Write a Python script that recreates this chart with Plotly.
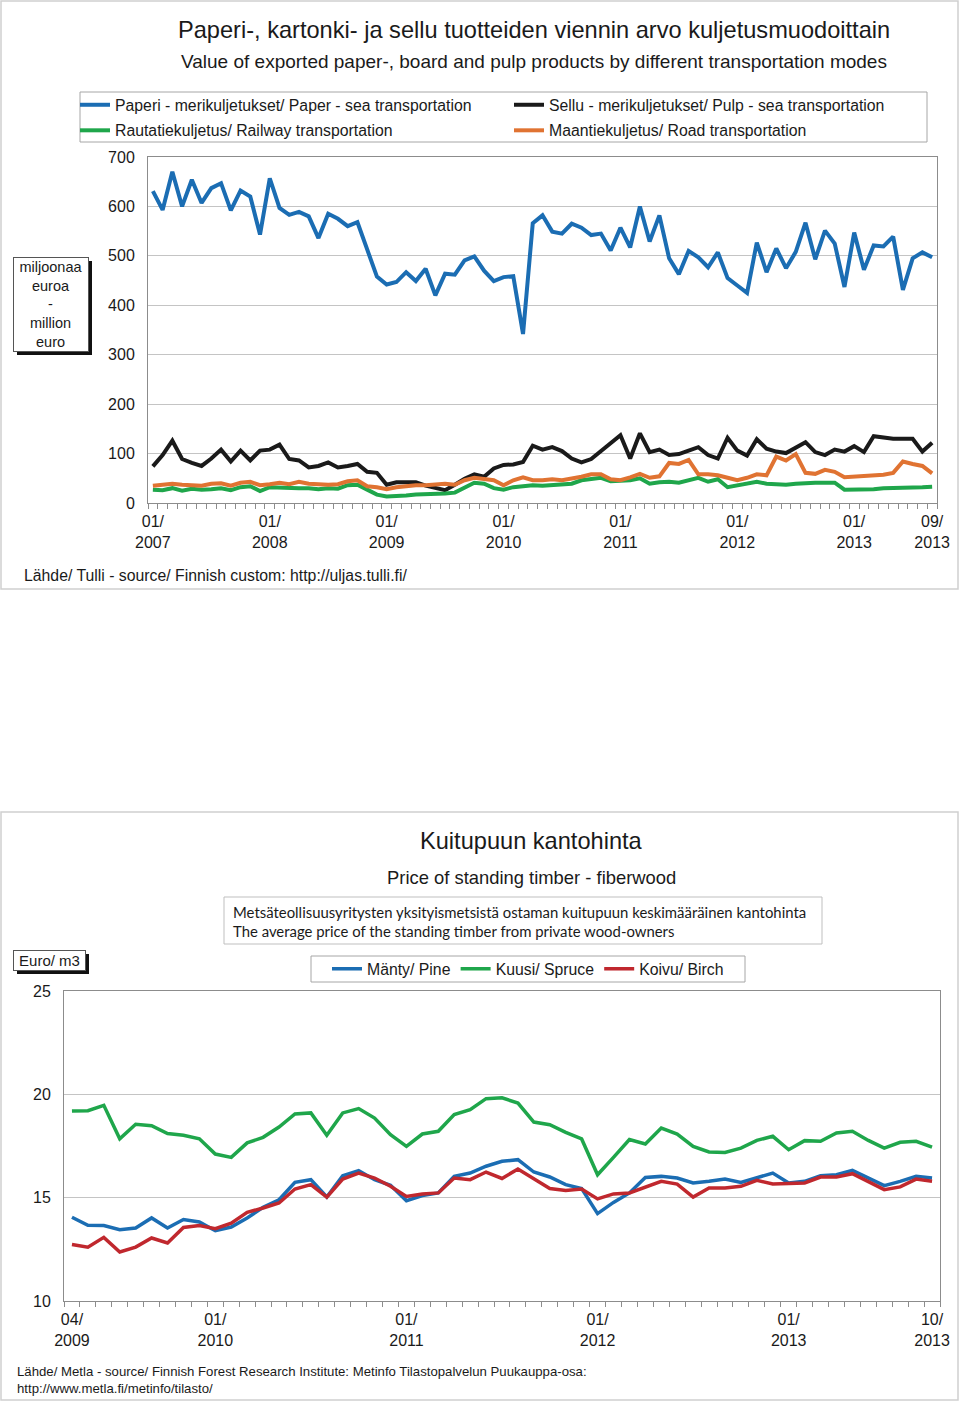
import plotly.graph_objects as go

W, H = 960, 1402

# ---------------- Top chart data (monthly, 01/2007 .. 09/2013) ----------------
top_tickvals = [0, 12, 24, 36, 48, 60, 72, 80]
top_ticktext = ["01/<br>2007", "01/<br>2008", "01/<br>2009", "01/<br>2010",
                "01/<br>2011", "01/<br>2012", "01/<br>2013", "09/<br>2013"]

paper_sea = [631, 593, 670, 600, 654, 607, 637, 647, 592, 632, 620, 543, 657, 597, 583, 589,
             580, 536, 585, 575, 560, 568, 513, 458, 442, 447, 467, 449, 474, 420, 464, 462,
             491, 499, 470, 449, 457, 459, 342, 566, 582, 549, 545, 565, 557, 542, 545, 511,
             557, 517, 600, 529, 582, 495, 463, 510, 497, 477, 507, 455, 440, 425, 527, 467,
             515, 475, 508, 567, 493, 551, 525, 437, 547, 472, 521, 519, 539, 431, 495, 507, 497]

pulp_sea = [74, 97, 126, 89, 81, 75, 90, 108, 84, 106, 86, 106, 108, 118, 89, 86,
            72, 75, 82, 72, 75, 79, 63, 61, 37, 42, 42, 42, 35, 30, 26, 37,
            49, 58, 53, 70, 77, 78, 83, 116, 108, 113, 105, 90, 82, 89, 105, 123,
            137, 90, 141, 103, 108, 97, 99, 106, 113, 97, 90, 132, 106, 96, 129, 110,
            104, 101, 111, 123, 103, 97, 108, 104, 115, 103, 135, 132, 130, 130, 130, 104, 122]

railway = [27, 26, 30, 25, 29, 27, 28, 30, 26, 32, 34, 24, 32, 31, 29, 30,
           30, 28, 30, 29, 36, 37, 27, 17, 13, 13, 15, 17, 17, 17, 19, 21,
           32, 41, 39, 30, 27, 32, 34, 36, 35, 37, 39, 39, 46, 48, 51, 44,
           44, 46, 50, 39, 42, 43, 41, 46, 51, 43, 48, 32, 35, 39, 43, 39,
           37, 37, 39, 41, 41, 41, 41, 27, 27, 27, 28, 30, 30, 30, 32, 32, 33]

road = [35, 37, 39, 37, 37, 35, 39, 40, 35, 41, 43, 36, 38, 41, 38, 43,
        39, 37, 37, 38, 44, 46, 34, 32, 28, 32, 35, 36, 36, 37, 39, 37,
        46, 51, 49, 46, 36, 46, 52, 46, 46, 48, 46, 49, 53, 58, 58, 48,
        46, 52, 59, 51, 54, 81, 79, 87, 58, 58, 56, 51, 46, 51, 58, 56,
        94, 86, 99, 61, 59, 67, 63, 52, 53, 53, 56, 57, 61, 84, 79, 75, 60]

top_names = ["Paperi - merikuljetukset/ Paper - sea transportation",
             "Sellu - merikuljetukset/ Pulp - sea transportation",
             "Rautatiekuljetus/ Railway transportation",
             "Maantiekuljetus/ Road transportation"]
top_series = [paper_sea, pulp_sea, railway, road]
top_colors = ["#1b6db3", "#1a1a1a", "#1fa64b", "#e07332"]
top_legends = ["legend", "legend3", "legend", "legend3"]   # two legend columns

# ---------------- Bottom chart data (monthly, 04/2009 .. 10/2013) -------------
bot_tickvals = [0, 9, 21, 33, 45, 54]
bot_ticktext = ["04/<br>2009", "01/<br>2010", "01/<br>2011", "01/<br>2012",
                "01/<br>2013", "10/<br>2013"]

pine = [14.05, 13.66, 13.65, 13.45, 13.53, 14.02, 13.53, 13.94, 13.82, 13.40, 13.58, 14.02,
        14.53, 14.90, 15.74, 15.87, 15.03, 16.06, 16.31, 15.87, 15.60, 14.85, 15.10, 15.23,
        16.03, 16.19, 16.52, 16.76, 16.84, 16.24, 16.00, 15.63, 15.44, 14.23, 14.77, 15.23,
        15.98, 16.03, 15.95, 15.71, 15.79, 15.90, 15.74, 15.95, 16.19, 15.71, 15.79, 16.06,
        16.11, 16.32, 15.95, 15.58, 15.79, 16.03, 15.95]

spruce = [19.19, 19.21, 19.47, 17.85, 18.55, 18.48, 18.10, 18.02, 17.85, 17.11, 16.95, 17.65,
          17.92, 18.42, 19.05, 19.10, 18.02, 19.10, 19.31, 18.85, 18.05, 17.48, 18.08, 18.21,
          19.02, 19.26, 19.79, 19.83, 19.58, 18.66, 18.53, 18.16, 17.84, 16.11, 16.95, 17.81,
          17.60, 18.37, 18.08, 17.48, 17.21, 17.19, 17.40, 17.77, 17.97, 17.32, 17.76, 17.73,
          18.13, 18.21, 17.77, 17.40, 17.68, 17.73, 17.45]

birch = [12.73, 12.60, 13.08, 12.37, 12.61, 13.05, 12.81, 13.56, 13.65, 13.50, 13.77, 14.29,
         14.50, 14.74, 15.42, 15.63, 15.03, 15.90, 16.19, 15.95, 15.55, 15.06, 15.18, 15.23,
         15.95, 15.87, 16.24, 15.93, 16.39, 15.90, 15.44, 15.35, 15.42, 14.94, 15.18, 15.23,
         15.50, 15.79, 15.66, 15.03, 15.47, 15.47, 15.55, 15.84, 15.66, 15.68, 15.71, 16.00,
         16.00, 16.16, 15.79, 15.39, 15.52, 15.90, 15.79]

bot_names = ["Mänty/ Pine", "Kuusi/ Spruce", "Koivu/ Birch"]
bot_series = [pine, spruce, birch]
bot_colors = ["#1b6db3", "#1fa64b", "#c0282e"]

FONT = "Liberation Sans, Arial, sans-serif"
TXT = "#1a1a1a"


def px(x):
    return x / W


def py(y):
    return 1 - y / H


fig = go.Figure()

for name, vals, col, lg in zip(top_names, top_series, top_colors, top_legends):
    fig.add_trace(go.Scatter(x=list(range(len(vals))), y=vals, name=name, mode="lines",
                             line=dict(color=col, width=4), xaxis="x", yaxis="y",
                             legend=lg, legendgroup=name))

for name, vals, col in zip(bot_names, bot_series, bot_colors):
    fig.add_trace(go.Scatter(x=list(range(len(vals))), y=vals, name=name, mode="lines",
                             line=dict(color=col, width=3.5), xaxis="x2", yaxis="y2",
                             legend="legend2"))

axis_line = "#8c8c8c"
grid = "#c4c4c4"

common_x = dict(showgrid=False, zeroline=False, showline=True, linecolor=axis_line,
                linewidth=1, mirror=True, ticks="", tickmode="array", automargin=False,
                ticklabelstandoff=4,
                tickfont=dict(family=FONT, size=16, color=TXT),
                minor=dict(ticks="outside", ticklen=5, tickcolor=axis_line, tickwidth=1,
                           tickmode="linear", tick0=-0.5, dtick=1, showgrid=False))
common_y = dict(showgrid=True, gridcolor=grid, gridwidth=1, zeroline=False, showline=True,
                linecolor=axis_line, linewidth=1, mirror=True, ticks="", automargin=False,
                tickfont=dict(family=FONT, size=16, color=TXT), ticklabelstandoff=9)

leg_common = dict(orientation="v", xanchor="left", yanchor="top", borderwidth=0,
                  bgcolor="rgba(0,0,0,0)", tracegroupgap=2, itemwidth=30,
                  font=dict(family=FONT, size=15.8, color=TXT))

fig.update_layout(
    width=W, height=H, autosize=False,
    margin=dict(l=0, r=0, t=0, b=0, pad=0, autoexpand=False),
    paper_bgcolor="white", plot_bgcolor="white",
    font=dict(family=FONT, color=TXT),
    xaxis=dict(domain=[px(148), px(937)], range=[-0.5, 80.5], anchor="y",
               tickvals=top_tickvals, ticktext=top_ticktext, **common_x),
    yaxis=dict(domain=[py(503), py(157)], range=[0, 700], anchor="x",
               tickmode="linear", tick0=0, dtick=100, **common_y),
    xaxis2=dict(domain=[px(64), px(940)], range=[-0.5, 54.5], anchor="y2",
                tickvals=bot_tickvals, ticktext=bot_ticktext, **common_x),
    yaxis2=dict(domain=[py(1301), py(991)], range=[10, 25], anchor="x2",
                tickmode="array", tickvals=[10, 15, 20, 25], **common_y),
    legend=dict(x=px(75), y=py(88), **leg_common),
    legend3=dict(x=px(509), y=py(88), **leg_common),
    legend2=dict(orientation="h", x=px(327), y=py(969), xanchor="left", yanchor="middle",
                 borderwidth=0, bgcolor="rgba(0,0,0,0)",
                 font=dict(family=FONT, size=15.8, color=TXT), itemwidth=30),
    showlegend=True,
)

shapes = [
    # panel frames
    dict(type="rect", xref="paper", yref="paper", x0=px(1), x1=px(958), y0=py(1), y1=py(589),
         line=dict(color="#d0d0d0", width=1.5), fillcolor="rgba(0,0,0,0)", layer="below"),
    dict(type="rect", xref="paper", yref="paper", x0=px(1), x1=px(958), y0=py(812), y1=py(1400),
         line=dict(color="#d0d0d0", width=1.5), fillcolor="rgba(0,0,0,0)", layer="below"),
    # legend frames
    dict(type="rect", xref="paper", yref="paper", x0=px(80), x1=px(927), y0=py(92), y1=py(142),
         line=dict(color="#a6a6a6", width=1), fillcolor="white", layer="below"),
    dict(type="rect", xref="paper", yref="paper", x0=px(311), x1=px(745), y0=py(956), y1=py(982),
         line=dict(color="#a6a6a6", width=1), fillcolor="white", layer="below"),
    # description frame
    dict(type="rect", xref="paper", yref="paper", x0=px(224), x1=px(822), y0=py(897), y1=py(944),
         line=dict(color="#bfbfbf", width=1), fillcolor="white", layer="below"),
    # shadows of unit boxes
    dict(type="rect", xref="paper", yref="paper", x0=px(17), x1=px(92), y0=py(261), y1=py(355),
         line=dict(width=0), fillcolor="#111111", layer="above"),
    dict(type="rect", xref="paper", yref="paper", x0=px(17), x1=px(89), y0=py(954), y1=py(974),
         line=dict(width=0), fillcolor="#111111", layer="above"),
]
fig.update_layout(shapes=shapes)

ann = []
ann.append(dict(text="Paperi-, kartonki- ja sellu tuotteiden viennin arvo kuljetusmuodoittain",
                x=px(534), y=py(30), xanchor="center", yanchor="middle",
                font=dict(family=FONT, size=23.6, color=TXT)))
ann.append(dict(text="Value of exported paper-, board and pulp products by different transportation modes",
                x=px(534), y=py(61), xanchor="center", yanchor="middle",
                font=dict(family=FONT, size=19, color=TXT)))
ann.append(dict(text="miljoonaa<br>euroa<br>-<br>million<br>euro",
                x=px(13), y=py(257), xanchor="left", yanchor="top", width=74, height=93,
                bgcolor="white", bordercolor="#555555", borderwidth=1, borderpad=0,
                align="center", font=dict(family=FONT, size=14.5, color=TXT)))
ann.append(dict(text="Lähde/ Tulli - source/ Finnish custom: http://uljas.tulli.fi/",
                x=px(22), y=py(575), xanchor="left", yanchor="middle",
                font=dict(family=FONT, size=15.8, color=TXT)))

ann.append(dict(text="Kuitupuun kantohinta",
                x=px(531), y=py(841), xanchor="center", yanchor="middle",
                font=dict(family=FONT, size=23.6, color=TXT)))
ann.append(dict(text="Price of standing timber - fiberwood",
                x=px(531), y=py(877), xanchor="center", yanchor="middle",
                font=dict(family=FONT, size=18.4, color=TXT)))
ann.append(dict(text="Metsäteollisuusyritysten yksityismetsistä ostaman kuitupuun keskimääräinen kantohinta"
                     "<br>The average price of the standing timber from private wood-owners",
                x=px(231), y=py(921), xanchor="left", yanchor="middle",
                align="left", font=dict(family="Lato, Carlito, sans-serif", size=14.9, color=TXT)))
ann.append(dict(text="Euro/ m3",
                x=px(13), y=py(950), xanchor="left", yanchor="top", width=71, height=19,
                bgcolor="white", bordercolor="#555555", borderwidth=1, borderpad=0,
                align="center", font=dict(family=FONT, size=15, color=TXT)))
ann.append(dict(text="Lähde/ Metla - source/ Finnish Forest Research Institute: Metinfo Tilastopalvelun Puukauppa-osa:"
                     "<br>http://www.metla.fi/metinfo/tilasto/",
                x=px(15), y=py(1362), xanchor="left", yanchor="top", align="left",
                font=dict(family=FONT, size=13.2, color=TXT)))

for a in ann:
    a.update(xref="paper", yref="paper", showarrow=False)
fig.update_layout(annotations=ann)

fig.write_html("out.html", config={"displayModeBar": False},
               post_script="document.body.style.margin='0';document.body.style.padding='0';"
                           "document.documentElement.style.overflow='hidden';")
